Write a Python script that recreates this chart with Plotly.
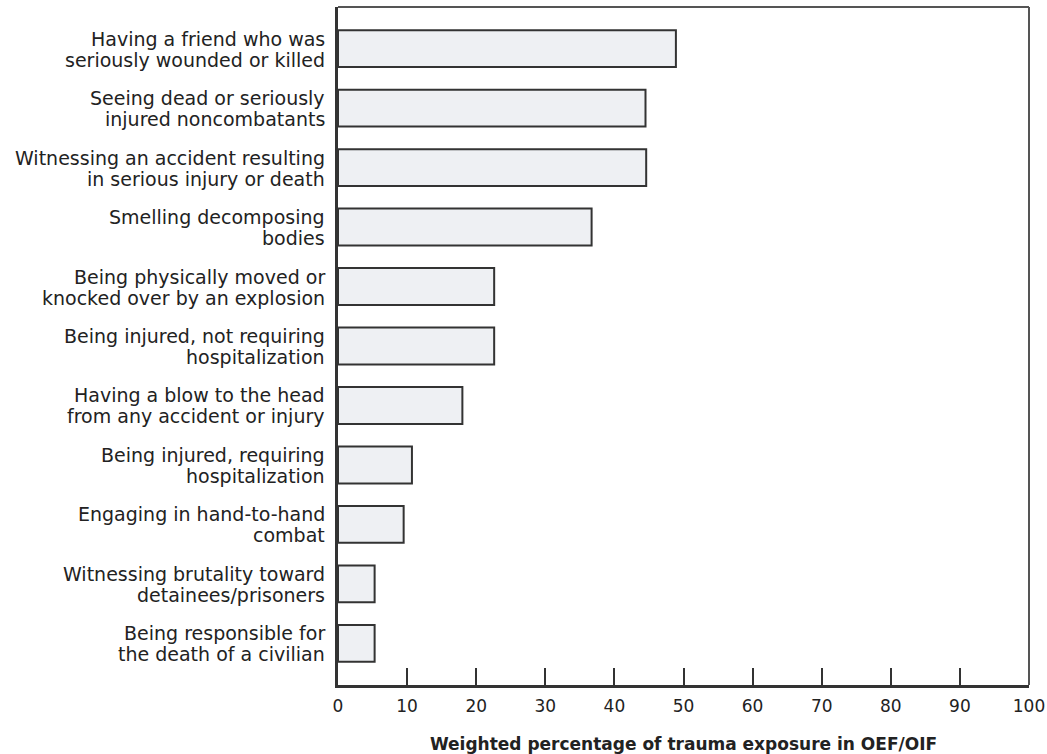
import plotly.graph_objects as go

categories = [
    "Having a friend who was<br>seriously wounded or killed",
    "Seeing dead or seriously<br>injured noncombatants",
    "Witnessing an accident resulting<br>in serious injury or death",
    "Smelling decomposing<br>bodies",
    "Being physically moved or<br>knocked over by an explosion",
    "Being injured, not requiring<br>hospitalization",
    "Having a blow to the head<br>from any accident or injury",
    "Being injured, requiring<br>hospitalization",
    "Engaging in hand-to-hand<br>combat",
    "Witnessing brutality toward<br>detainees/prisoners",
    "Being responsible for<br>the death of a civilian",
]
values = [48.9, 44.5, 44.6, 36.7, 22.6, 22.6, 18.0, 10.7, 9.5, 5.3, 5.3]
x_ticks = [0, 10, 20, 30, 40, 50, 60, 70, 80, 90, 100]

FONT = "DejaVu Sans"
TXT = "#222222"
FS = 19

fig = go.Figure(go.Bar(
    x=values, y=categories, orientation="h", width=0.62,
    marker=dict(color="#eef0f3", line=dict(color="#333333", width=2)),
    hoverinfo="skip",
))

# two-line category labels with tight line spacing
annotations = []
for cat in categories:
    lines = cat.split("<br>")
    shifts = [10, -11] if len(lines) == 2 else [0]
    for line, ys in zip(lines, shifts):
        annotations.append(dict(
            x=0, xref="paper", y=cat, yref="y", text=line, showarrow=False,
            xanchor="right", yanchor="middle", xshift=-11, yshift=ys,
            font=dict(family=FONT, size=FS, color=TXT),
        ))

fig.update_layout(
    width=1047, height=754,
    margin=dict(l=338, r=18, t=7, b=69, autoexpand=False),
    paper_bgcolor="white", plot_bgcolor="white",
    showlegend=False,
    font=dict(family=FONT, size=FS, color=TXT),
    annotations=annotations,
    xaxis=dict(
        range=[0, 100], tickvals=x_ticks, ticktext=[str(v) for v in x_ticks],
        ticks="inside", ticklen=17, tickwidth=1.5, tickcolor="#333333",
        showline=True, linecolor="#333333", linewidth=3,
        showgrid=False, zeroline=False, ticklabelstandoff=4,
        automargin=False,
        tickfont=dict(family=FONT, size=17, color=TXT),
        title=dict(text="<b>Weighted percentage of trauma exposure in OEF/OIF</b>",
                   font=dict(family=FONT, size=17, color=TXT), standoff=25),
    ),
    yaxis=dict(
        categoryorder="array", categoryarray=categories,
        range=[10.7, -0.7], automargin=False,
        showline=True, linecolor="#333333", linewidth=3,
        ticks="", showgrid=False, zeroline=False, showticklabels=False,
    ),
    shapes=[
        dict(type="line", xref="paper", yref="paper", x0=0, x1=1, y0=1, y1=1,
             line=dict(color="#555555", width=2)),
        dict(type="line", xref="paper", yref="paper", x0=1, x1=1, y0=0, y1=1,
             line=dict(color="#555555", width=2)),
    ],
)

fig.write_html("out.html", config={"displayModeBar": False},
               post_script="document.body.style.margin='0';")
